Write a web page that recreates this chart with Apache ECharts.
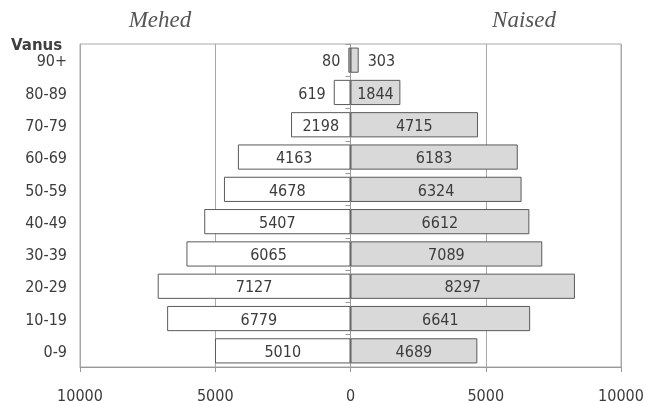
<!DOCTYPE html>
<html>
<head>
<meta charset="utf-8">
<script src="https://cdn.jsdelivr.net/npm/echarts@6/dist/echarts.min.js"></script>
<style>html,body{margin:0;padding:0;background:#fff}#c{width:646px;height:401px}</style>
</head>
<body>
<div id="c"></div>
<script>
const categories = ['0-9','10-19','20-29','30-39','40-49','50-59','60-69','70-79','80-89','90+'];
const mehed = [5010, 6779, 7127, 6065, 5407, 4678, 4163, 2198, 619, 80];
const naised = [4689, 6641, 8297, 7089, 6612, 6324, 6183, 4715, 1844, 303];

const font = "'DejaVu Sans Condensed', 'Noto Sans', sans-serif";
const txt = '#3c3c3c';
const chart = echarts.init(document.getElementById('c'));

function items(vals, sign, outsidePos) {
  return vals.map(v => ({
    value: sign * v,
    label: v < 1000 ? { position: outsidePos } : { position: 'inside' }
  }));
}

const titleStyle = { fontFamily: 'Liberation Serif', fontStyle: 'italic', fontWeight: 'normal', fontSize: 23, color: '#555555' };
const lbl = { fontFamily: font, fontSize: 16, color: txt, verticalAlign: 'top', lineHeight: 4 };

chart.setOption({
  animation: false,
  title: [
    { text: 'Mehed', left: 155, top: 4, textAlign: 'center', textStyle: titleStyle },
    { text: 'Naised', left: 519, top: 4, textAlign: 'center', textStyle: titleStyle },
    { text: 'Vanus', left: 6, top: 34,
      textStyle: { fontFamily: 'DejaVu Sans', fontWeight: 'bold', fontSize: 15, color: '#404040' } }
  ],
  grid: { left: 80, right: 25, top: 44, bottom: 34, show: true, borderColor: '#a8a8a8', borderWidth: 1, outerBoundsMode: 'none', containLabel: false },
  xAxis: {
    type: 'value', min: -10000, max: 10000, interval: 5000,
    axisLine: { show: true, lineStyle: { color: '#999' } },
    axisTick: { show: true, length: 5, lineStyle: { color: '#999' } },
    splitLine: { show: true, lineStyle: { color: '#a8a8a8', width: 1 } },
    axisLabel: { formatter: v => String(Math.abs(v)), fontFamily: font, fontSize: 16, color: txt, margin: 22 }
  },
  yAxis: {
    type: 'category', data: categories,
    axisLine: { show: true, lineStyle: { color: '#999' } },
    axisTick: { show: true, length: 5, lineStyle: { color: '#999' } },
    axisLabel: Object.assign({ margin: 13 }, lbl)
  },
  series: [
    {
      name: 'Mehed', type: 'bar', stack: 't', barCategoryGap: '22%',
      data: items(mehed, -1, 'left'),
      itemStyle: { color: '#ffffff', borderColor: '#5a5a5a', borderWidth: 1 },
      label: Object.assign({ show: true, formatter: p => String(Math.abs(p.value)), distance: 8 }, lbl)
    },
    {
      name: 'Naised', type: 'bar', stack: 't', barCategoryGap: '22%',
      data: items(naised, 1, 'right'),
      itemStyle: { color: '#d9d9d9', borderColor: '#5a5a5a', borderWidth: 1 },
      label: Object.assign({ show: true, formatter: p => String(p.value), distance: 9 }, lbl)
    }
  ]
});
</script>
</body>
</html>
